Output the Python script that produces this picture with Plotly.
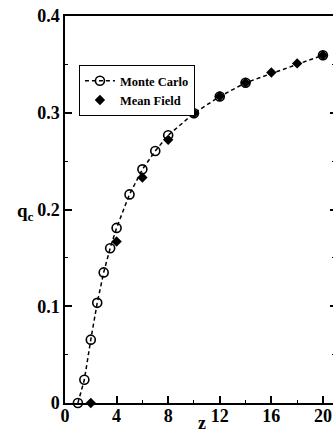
import plotly.graph_objects as go

mc_z = [1, 1.5, 2, 2.5, 3, 3.5, 4, 5, 6, 7, 8, 10, 12, 14, 20]
mc_q = [0.0, 0.024, 0.0655, 0.1035, 0.135, 0.160, 0.181, 0.2156, 0.2415, 0.2605, 0.2767, 0.2995, 0.3168, 0.331, 0.3595]
mf_z = [2, 4, 6, 8, 10, 12, 14, 16, 18, 20]
mf_q = [0.0, 0.167, 0.233, 0.272, 0.2995, 0.317, 0.331, 0.3416, 0.351, 0.3595]

x_ticks = [0, 4, 8, 12, 16, 20]
y_ticks = [0, 0.1, 0.2, 0.3, 0.4]
y_tick_text = ["0", "0.1", "0.2", "0.3", "0.4"]

FONT = "Liberation Serif"

fig = go.Figure()
fig.add_trace(go.Scatter(
    x=mc_z, y=mc_q, mode="lines+markers", name="Monte Carlo",
    line=dict(color="black", width=1.5, dash="4px,3px"),
    marker=dict(symbol="circle-open", size=9, color="black", line=dict(width=1.6)),
    cliponaxis=False,
))
fig.add_trace(go.Scatter(
    x=mf_z, y=mf_q, mode="markers", name="Mean Field",
    marker=dict(symbol="diamond", size=8, color="black"),
    cliponaxis=False,
))
# invisible trace to carry the right-hand tick axis
fig.add_trace(go.Scatter(x=[0], y=[0], yaxis="y2", mode="markers",
                         marker=dict(opacity=0), showlegend=False, hoverinfo="skip"))

tickfont = dict(family=FONT, size=18, color="black", weight="bold")

fig.update_layout(
    width=333, height=433,
    margin=dict(l=65, r=0, t=16, b=30),
    paper_bgcolor="white", plot_bgcolor="white",
    showlegend=True,
    legend=dict(
        x=0.052, y=0.873, xanchor="left", yanchor="top",
        bordercolor="black", borderwidth=1, bgcolor="white",
        font=dict(family=FONT, size=12.5, color="black", weight="bold"),
        itemwidth=30, tracegroupgap=0,
    ),
    xaxis=dict(
        range=[0, 20.78], tickmode="array", tickvals=x_ticks,
        ticks="inside", ticklen=7, tickwidth=1.5, tickcolor="black",
        showline=True, linecolor="black", linewidth=1.5, mirror=True,
        showgrid=False, zeroline=False, tickfont=tickfont,
        ticklabelstandoff=-4,
        minor=dict(dtick=2, tick0=0, ticks="inside", ticklen=3, tickwidth=1.2, tickcolor="black", showgrid=False),
    ),
    yaxis=dict(
        range=[0, 0.4], tickmode="array", tickvals=y_ticks, ticktext=y_tick_text,
        ticks="inside", ticklen=7, tickwidth=1.5, tickcolor="black",
        showline=True, linecolor="black", linewidth=1.5, mirror=False,
        showgrid=False, zeroline=False, tickfont=tickfont,
        minor=dict(dtick=0.05, tick0=0, ticks="inside", ticklen=3, tickwidth=1.2, tickcolor="black", showgrid=False),
    ),
    yaxis2=dict(
        range=[0, 0.4], overlaying="y", side="right", tickmode="array", tickvals=y_ticks,
        ticks="inside", ticklen=3, tickwidth=1.5, tickcolor="black",
        showticklabels=False, showline=False, showgrid=False, zeroline=False,
        minor=dict(dtick=0.05, tick0=0, ticks="inside", ticklen=1, tickwidth=1.2, tickcolor="black", showgrid=False),
    ),
    annotations=[
        dict(text="q<sub>c</sub>", xref="paper", yref="paper", x=-0.185, y=0.4935,
             xanchor="left", yanchor="middle", showarrow=False,
             font=dict(family=FONT, size=19, color="black", weight="bold")),
        dict(text="z", xref="paper", yref="paper", x=0.511, y=-0.02,
             xanchor="center", yanchor="top", showarrow=False,
             font=dict(family=FONT, size=18, color="black", weight="bold")),
    ],
)

fig.write_html(
    "out.html",
    config={"displayModeBar": False},
    post_script="document.body.style.margin='0';document.body.style.overflow='hidden';",
)
